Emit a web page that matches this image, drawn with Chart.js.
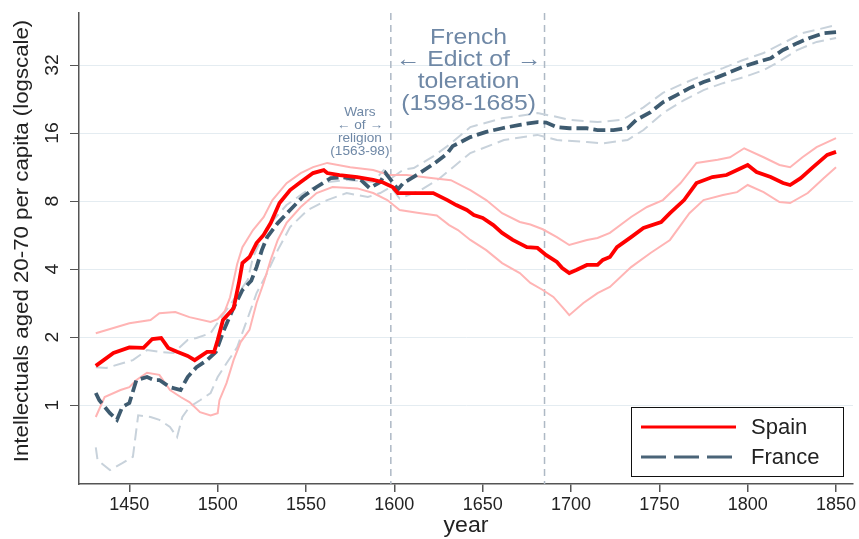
<!DOCTYPE html>
<html>
<head>
<meta charset="utf-8">
<script src="https://cdn.jsdelivr.net/npm/chart.js@4"></script>
<style>
  body { margin: 0; background: #fff; }
  #wrap { width: 859px; height: 539px; }
</style>
</head>
<body>
<div id="wrap"><canvas id="chart"></canvas></div>
<script>
// values (year, intellectuals per capita)
const spainYears = [1431,1441,1450,1458,1463,1468,1472,1477,1483,1487,1494,1498,1500,1503,1509,1512,1514,1518,1522,1526,1530,1535,1541,1547,1554,1560,1562,1569,1579,1588,1593,1599,1602,1611,1622,1630,1635,1641,1645,1650,1656,1661,1667,1675,1681,1686,1692,1695,1699,1703,1709,1715,1718,1722,1726,1734,1741,1751,1756,1764,1771,1780,1788,1794,1800,1805,1813,1820,1824,1830,1837,1845,1850];
const spainVals = [1.49,1.70,1.80,1.79,1.96,1.98,1.79,1.72,1.65,1.58,1.72,1.72,1.94,2.38,2.68,3.47,4.25,4.52,5.21,5.66,6.39,7.84,8.95,9.71,10.64,10.97,10.64,10.43,10.2,9.92,9.71,9.23,8.68,8.68,8.68,8.08,7.68,7.3,6.94,6.73,6.26,5.78,5.38,5.0,4.96,4.61,4.3,4.04,3.84,3.96,4.17,4.17,4.39,4.52,5.0,5.54,6.08,6.46,7.07,8.08,9.61,10.22,10.43,10.97,11.55,10.75,10.22,9.61,9.42,10.1,11.3,12.8,13.2];

const spainHiYears = [1431,1450,1462,1467,1476,1484,1496,1500,1504,1507,1511,1514,1520,1526,1531,1539,1547,1554,1562,1575,1588,1597,1607,1622,1632,1643,1652,1661,1671,1677,1684,1692,1699,1709,1715,1722,1734,1743,1752,1762,1771,1783,1790,1798,1809,1818,1824,1831,1839,1850];
const spainHiVals = [2.08,2.30,2.38,2.55,2.58,2.45,2.33,2.4,2.6,3.0,4.2,5.0,5.95,6.79,8.08,9.6,10.64,11.3,11.8,11.3,10.97,10.43,10.43,10.1,9.9,8.95,8.08,7.07,6.46,6.3,6.0,5.54,5.11,5.38,5.49,5.78,6.8,7.53,8.08,9.61,11.8,12.2,12.5,13.7,12.5,11.55,11.3,12.5,13.85,15.2];

const spainLoYears = [1431,1436,1445,1450,1454,1460,1467,1473,1479,1484,1490,1496,1500,1501,1505,1509,1513,1518,1522,1526,1530,1534,1539,1547,1556,1565,1579,1588,1596,1603,1613,1624,1631,1636,1643,1652,1661,1671,1677,1684,1690,1695,1699,1707,1715,1722,1734,1745,1756,1767,1775,1786,1794,1800,1809,1818,1824,1834,1843,1850];
const spainLoVals = [0.885,1.085,1.165,1.2,1.29,1.39,1.36,1.165,1.085,1.03,0.93,0.9,0.92,1.05,1.25,1.58,1.9,2.15,2.83,3.47,4.39,5.38,6.4,7.53,8.68,9.23,9.1,8.68,8.08,7.3,7.1,6.9,6.26,5.95,5.38,4.85,4.25,3.84,3.47,3.23,3.01,2.72,2.5,2.83,3.13,3.33,4.08,4.71,5.38,7.07,8.08,8.5,8.76,9.42,8.76,7.92,7.84,8.68,10.1,11.3];

const franceYears = [1431,1433,1439,1443,1446,1450,1454,1460,1464,1467,1473,1479,1483,1488,1494,1499,1503,1509,1514,1519,1522,1525,1528,1534,1541,1548,1556,1564,1571,1581,1586,1592,1595,1598,1602,1605,1614,1623,1630,1633,1643,1652,1661,1671,1681,1686,1692,1699,1709,1715,1724,1732,1737,1745,1752,1760,1767,1775,1783,1790,1797,1805,1813,1820,1828,1835,1843,1850];
const franceVals = [1.13,1.05,0.92,0.86,0.98,1.02,1.29,1.33,1.29,1.29,1.2,1.165,1.33,1.47,1.58,1.72,2.1,2.7,3.23,3.55,4.08,4.85,5.54,6.39,7.3,8.33,9.23,10.1,10.2,9.92,9.13,9.71,10.64,9.92,9.0,9.6,10.6,11.8,13.0,14.0,15.35,16.2,16.8,17.4,17.9,17.8,17.0,16.8,16.8,16.5,16.5,16.8,18.3,19.8,21.9,23.6,25.3,26.9,28.3,29.8,31.4,32.9,34.3,37.3,40.0,42.2,44.3,44.8];

const franceHiYears = [1431,1437,1446,1452,1460,1467,1475,1483,1488,1496,1501,1509,1517,1520,1528,1539,1551,1562,1573,1588,1594,1599,1605,1611,1622,1630,1643,1661,1681,1690,1699,1715,1729,1741,1752,1764,1775,1786,1797,1809,1820,1831,1850];
const franceHiVals = [1.47,1.46,1.53,1.58,1.75,1.72,1.70,1.94,1.98,2.08,2.38,2.92,3.58,4.52,6.14,7.68,8.95,9.71,9.92,9.71,10.97,10.2,11.0,11.2,12.6,14.0,17.0,18.6,19.6,19.0,18.3,17.9,18.3,20.8,24.1,26.6,28.9,31.0,33.6,36.2,40.0,44.3,48.1];

const franceLoYears = [1431,1432,1439,1446,1452,1455,1462,1467,1473,1477,1480,1484,1490,1496,1500,1505,1511,1518,1522,1528,1534,1541,1551,1562,1573,1585,1592,1598,1603,1615,1625,1643,1662,1681,1692,1709,1718,1732,1741,1752,1764,1775,1786,1798,1809,1817,1828,1839,1850];
const franceLoVals = [0.65,0.57,0.515,0.553,0.59,0.9,0.885,0.86,0.80,0.72,0.885,0.98,1.05,1.13,1.33,1.53,1.8,2.55,3.13,3.84,4.85,6.14,7.3,8.08,8.68,8.33,8.68,9.23,8.2,8.95,10.0,13.05,14.9,15.7,14.9,14.6,14.4,14.9,16.5,19.6,22.4,24.8,26.6,28.3,30.4,32.9,37.3,40.5,42.2];

const xTicks = [1450,1500,1550,1600,1650,1700,1750,1800,1850];
const yTicks = [1,2,4,8,16,32];
const eventYears = [1598,1685];

function pts(years, vals) {
  return years.map((yr, i) => ({x: yr, y: vals[i]}));
}

const TXT = '#222';
const NOTE = '#6f88a6';
const FONT = '"Liberation Sans", Arial, sans-serif';

// text a bit wider than the font, like the stretched original
function wideText(ctx, s, x, y, k) {
  ctx.save();
  ctx.translate(x, y);
  ctx.scale(k, 1);
  ctx.fillText(s, 0, 0);
  ctx.restore();
}

const extras = {
  id: 'extras',
  beforeDatasetsDraw(chart) {
    const {ctx, chartArea: a, scales: {x}} = chart;
    ctx.save();
    ctx.strokeStyle = '#aeb9c5';
    ctx.lineWidth = 1.5;
    ctx.setLineDash([7, 5]);
    eventYears.forEach(yr => {
      const px = x.getPixelForValue(yr);
      ctx.beginPath();
      ctx.moveTo(px, a.top);
      ctx.lineTo(px, a.bottom);
      ctx.stroke();
    });
    ctx.restore();
  },
  afterDraw(chart) {
    const {ctx, chartArea: a, scales: {x, y}} = chart;
    ctx.save();
    ctx.fillStyle = TXT;
    ctx.textAlign = 'center';
    ctx.textBaseline = 'middle';

    // y tick labels, rotated like the original
    ctx.font = '18px ' + FONT;
    yTicks.forEach(v => {
      const py = y.getPixelForValue(v);
      ctx.save();
      ctx.translate(a.left - 26, py);
      ctx.rotate(-Math.PI / 2);
      wideText(ctx, String(v), 0, 0, 1.08);
      ctx.restore();
    });

    // axis titles
    ctx.font = '19.5px ' + FONT;
    ctx.save();
    ctx.translate(23, 241);
    ctx.rotate(-Math.PI / 2);
    wideText(ctx, 'Intellectuals aged 20-70 per capita (logscale)', 0, 0, 1.14);
    ctx.restore();
    ctx.font = '22px ' + FONT;
    wideText(ctx, 'year', (a.left + a.right) / 2, 526, 1.05);

    // annotations
    ctx.fillStyle = NOTE;
    ctx.font = '22.5px ' + FONT;
    const fx = x.getPixelForValue((eventYears[0] + eventYears[1]) / 2 + 0.5);
    ['French', '\u2190 Edict of \u2192', 'toleration', '(1598-1685)'].forEach((s, i) => {
      wideText(ctx, s, fx, 38 + i * 22, 1.1);
    });
    ctx.font = '13px ' + FONT;
    const wx = x.getPixelForValue(1580.5);
    ['Wars', '\u2190 of \u2192', 'religion', '(1563-98)'].forEach((s, i) => {
      wideText(ctx, s, wx, 112 + i * 13.3, 1.05);
    });

    // legend
    const lx = 631, ly = 407, lw = 212, lh = 69;
    ctx.fillStyle = '#fff';
    ctx.fillRect(lx, ly, lw, lh);
    ctx.strokeStyle = '#111';
    ctx.lineWidth = 1;
    ctx.strokeRect(lx + 0.5, ly + 0.5, lw, lh);
    ctx.lineWidth = 3;
    ctx.strokeStyle = '#ff0000';
    ctx.beginPath();
    ctx.moveTo(641, 427); ctx.lineTo(736, 427);
    ctx.stroke();
    ctx.strokeStyle = '#4a6478';
    ctx.setLineDash([25, 8]);
    ctx.beginPath();
    ctx.moveTo(641, 457); ctx.lineTo(736, 457);
    ctx.stroke();
    ctx.setLineDash([]);
    ctx.fillStyle = TXT;
    ctx.font = '22px ' + FONT;
    ctx.textAlign = 'left';
    ctx.fillText('Spain', 751, 428);
    ctx.fillText('France', 751, 458);
    ctx.restore();
  }
};

const data = {
  datasets: [
    {
      label: 'Spain',
      data: pts(spainYears, spainVals),
      borderColor: '#ff0000',
      borderWidth: 3.8,
      order: 0
    },
    {
      label: 'France',
      data: pts(franceYears, franceVals),
      borderColor: '#3e5b70',
      borderWidth: 3.8,
      borderDash: [12, 5],
      order: 1
    },
    {
      label: 'Spain upper',
      data: pts(spainHiYears, spainHiVals),
      borderColor: '#ffb4b4',
      borderWidth: 2,
      order: 2
    },
    {
      label: 'Spain lower',
      data: pts(spainLoYears, spainLoVals),
      borderColor: '#ffb4b4',
      borderWidth: 2,
      order: 2
    },
    {
      label: 'France upper',
      data: pts(franceHiYears, franceHiVals),
      borderColor: '#c8d2db',
      borderWidth: 2,
      borderDash: [12, 6],
      order: 3
    },
    {
      label: 'France lower',
      data: pts(franceLoYears, franceLoVals),
      borderColor: '#c8d2db',
      borderWidth: 2,
      borderDash: [12, 6],
      order: 3
    }
  ]
};

const config = {
  type: 'line',
  data: data,
  options: {
    responsive: true,
    maintainAspectRatio: false,
    animation: false,
    layout: { padding: { top: 13, right: 6, left: 0, bottom: 0 } },
    elements: {
      point: { radius: 0 },
      line: { tension: 0, fill: false }
    },
    plugins: {
      legend: { display: false },
      tooltip: { enabled: false },
      title: { display: false }
    },
    scales: {
      x: {
        type: 'linear',
        min: 1421.5,
        max: 1859.6,
        afterBuildTicks: s => { s.ticks = xTicks.map(v => ({value: v})); },
        afterFit: s => { s.height = 55; },
        grid: { drawOnChartArea: false, tickLength: 8, tickColor: '#555', lineWidth: 1.5 },
        border: { color: '#555', width: 1.5 },
        ticks: {
          color: TXT,
          font: { family: FONT, size: 18 },
          padding: 2,
          maxRotation: 0,
          callback: v => String(v)
        }
      },
      y: {
        type: 'logarithmic',
        min: 0.447,
        max: 54.4,
        afterBuildTicks: s => { s.ticks = yTicks.map(v => ({value: v})); },
        afterFit: s => { s.width = 79; },
        grid: { color: '#e4ecf1', lineWidth: 1, tickLength: 9, tickColor: '#555' },
        border: { color: '#555', width: 1.5 },
        ticks: { display: false }
      }
    }
  },
  plugins: [extras]
};

document.addEventListener('DOMContentLoaded', function () {
  const ctx = document.getElementById('chart').getContext('2d');
  new Chart(ctx, config);
});
</script>
</body>
</html>
